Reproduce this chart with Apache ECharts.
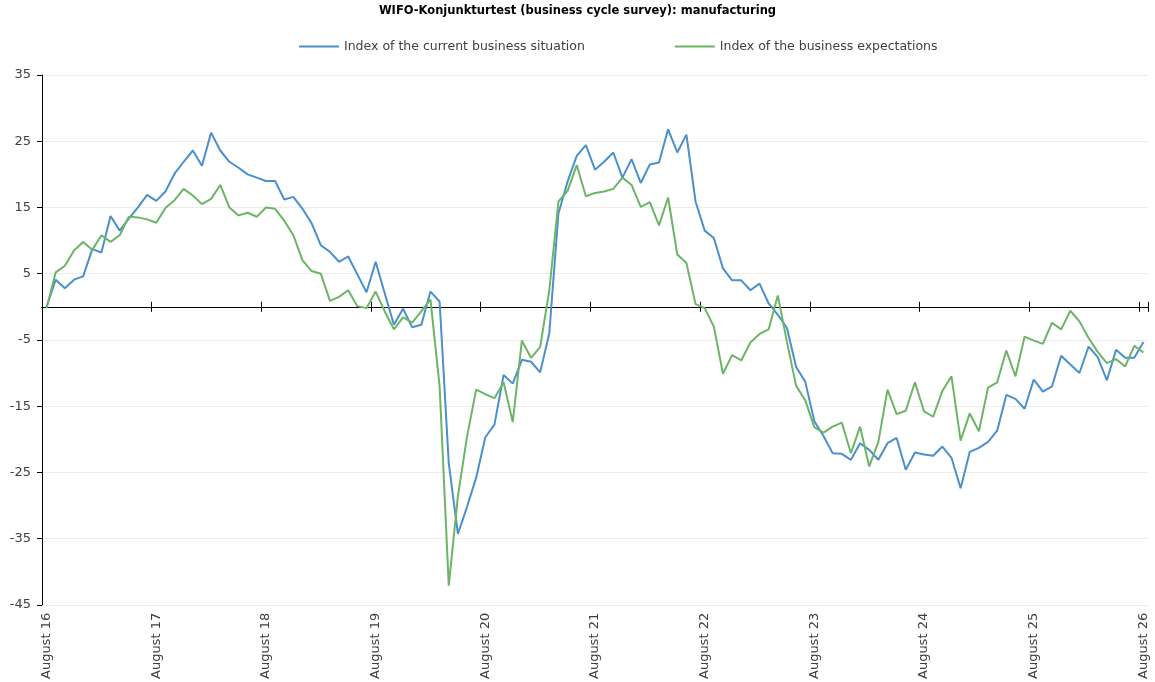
<!DOCTYPE html>
<html>
<head>
<meta charset="utf-8">
<script src="https://cdn.jsdelivr.net/npm/echarts@6/dist/echarts.min.js"></script>
<style>
  html, body { margin: 0; padding: 0; background: #fff; }
  #chart { width: 1155px; height: 682px; }
</style>
</head>
<body>
<div id="chart"></div>
<script>
// monthly survey balances, August 2016 .. August 2026
const monthNames = ['January', 'February', 'March', 'April', 'May', 'June', 'July',
  'August', 'September', 'October', 'November', 'December'];
const startYear = 16;
const startMonth = 7; // August

const currentSituation = [
  0, 4.1, 2.8, 4.1, 4.6, 8.7, 8.2, 13.7, 11.5, 13.3, 15.0, 16.9,
  16.0, 17.4, 20.1, 21.9, 23.6, 21.3, 26.3, 23.6, 21.9, 21.0, 20.0, 19.5,
  19.0, 19.0, 16.2, 16.6, 14.8, 12.6, 9.3, 8.3, 6.8, 7.6, 4.9, 2.2,
  6.8, 2.0, -2.7, -0.3, -3.1, -2.7, 2.3, 0.8, -23.6, -34.3, -30.2, -25.8,
  -19.7, -17.8, -10.3, -11.6, -8.0, -8.3, -9.9, -4.0, 14.1, 18.9, 22.8, 24.4,
  20.7, 21.9, 23.3, 19.5, 22.3, 18.7, 21.5, 21.8, 26.8, 23.3, 26.0, 15.9,
  11.5, 10.4, 5.8, 4.0, 4.0, 2.5, 3.5, 0.5, -1.2, -3.2, -9.1, -11.3,
  -17.3, -19.5, -22.1, -22.2, -23.1, -20.6, -21.6, -23.1, -20.6, -19.8, -24.6, -22.0,
  -22.3, -22.5, -21.1, -22.8, -27.4, -21.9, -21.3, -20.4, -18.7, -13.3, -13.9, -15.4,
  -11.0, -12.8, -12.0, -7.4, -8.7, -10.0, -6.0, -7.6, -11.1, -6.5, -7.7, -7.7,
  -5.3
];

const expectations = [
  -0.2, 5.2, 6.2, 8.5, 9.8, 8.6, 10.8, 9.8, 10.8, 13.6, 13.5, 13.2,
  12.7, 14.9, 16.1, 17.8, 16.8, 15.5, 16.3, 18.4, 15.0, 13.8, 14.2, 13.6,
  15.0, 14.8, 13.0, 10.8, 7.0, 5.4, 5.0, 0.9, 1.5, 2.5, 0.1, -0.2,
  2.3, -0.7, -3.4, -1.6, -2.4, -0.7, 1.1, -12.0, -42.1, -28.6, -19.6, -12.5,
  -13.2, -13.8, -11.4, -17.4, -5.1, -7.7, -6.1, 2.5, 15.9, 17.5, 21.4, 16.7,
  17.2, 17.4, 17.8, 19.5, 18.4, 15.1, 15.8, 12.3, 16.5, 7.9, 6.6, 0.4,
  -0.2, -3.0, -10.1, -7.3, -8.1, -5.4, -4.1, -3.4, 1.7, -5.3, -11.9, -14.1,
  -18.2, -19.0, -18.1, -17.5, -22.1, -18.1, -24.1, -20.4, -12.5, -16.2, -15.7, -11.4,
  -15.8, -16.6, -12.7, -10.5, -20.2, -16.1, -18.8, -12.2, -11.4, -6.6, -10.5, -4.5,
  -5.1, -5.6, -2.4, -3.4, -0.6, -2.2, -4.7, -6.8, -8.5, -7.9, -9.0, -5.9,
  -6.9
];

const months = currentSituation.map((_, i) => {
  const m = (startMonth + i) % 12;
  const y = startYear + Math.floor((startMonth + i) / 12);
  return monthNames[m] + ' ' + y;
});

const FONT = 'DejaVu Sans';
const chart = echarts.init(document.getElementById('chart'));

// three x axes share the months: labels at the bottom, and the zero line
// drawn twice (bottom + top position) so its tick marks cross it
const baseX = { type: 'category', data: months, boundaryGap: true };
const zeroAxis = (position) => Object.assign({}, baseX, {
  position: position,
  axisLine: { show: true, onZero: true, onZeroAxisIndex: 0, lineStyle: { color: '#000', width: 1 } },
  axisTick: { show: true, interval: 11, length: 5, lineStyle: { color: '#000', width: 1 } },
  axisLabel: { show: false },
  splitLine: { show: false }
});

chart.setOption({
  animation: false,
  textStyle: { fontFamily: FONT },
  title: {
    text: 'WIFO-Konjunkturtest (business cycle survey): manufacturing',
    left: 'center',
    top: 0,
    textStyle: { fontSize: 11.5, fontWeight: 'bold', color: '#000', fontFamily: FONT }
  },
  legend: {
    left: 294,
    top: 35,
    icon: 'rect',
    itemWidth: 40,
    itemHeight: 2,
    itemGap: 90,
    textStyle: { fontSize: 12.5, color: '#404040', fontFamily: FONT }
  },
  grid: { left: 42, right: 7, top: 75, bottom: 77 },
  xAxis: [
    Object.assign({}, baseX, {
      position: 'bottom',
      axisLine: { show: false, onZero: false },
      axisTick: { show: false },
      axisLabel: { interval: 11, rotate: 90, margin: 8, fontSize: 13, color: '#404040' },
      splitLine: { show: false }
    }),
    zeroAxis('bottom'),
    zeroAxis('top')
  ],
  yAxis: {
    type: 'value',
    min: -45,
    max: 35,
    interval: 10,
    axisLine: { show: true, lineStyle: { color: '#000' } },
    axisTick: { show: true, length: 5, lineStyle: { color: '#000' } },
    axisLabel: { fontSize: 13, color: '#404040', margin: 11 },
    splitLine: { lineStyle: { color: '#ececec' } }
  },
  series: [
    {
      name: 'Index of the current business situation',
      type: 'line',
      data: currentSituation,
      symbol: 'none',
      lineStyle: { color: '#4a90cd', width: 2 },
      itemStyle: { color: '#4a90cd' }
    },
    {
      name: 'Index of the business expectations',
      type: 'line',
      data: expectations,
      symbol: 'none',
      lineStyle: { color: '#6cb466', width: 2 },
      itemStyle: { color: '#6cb466' }
    }
  ]
});
</script>
</body>
</html>
